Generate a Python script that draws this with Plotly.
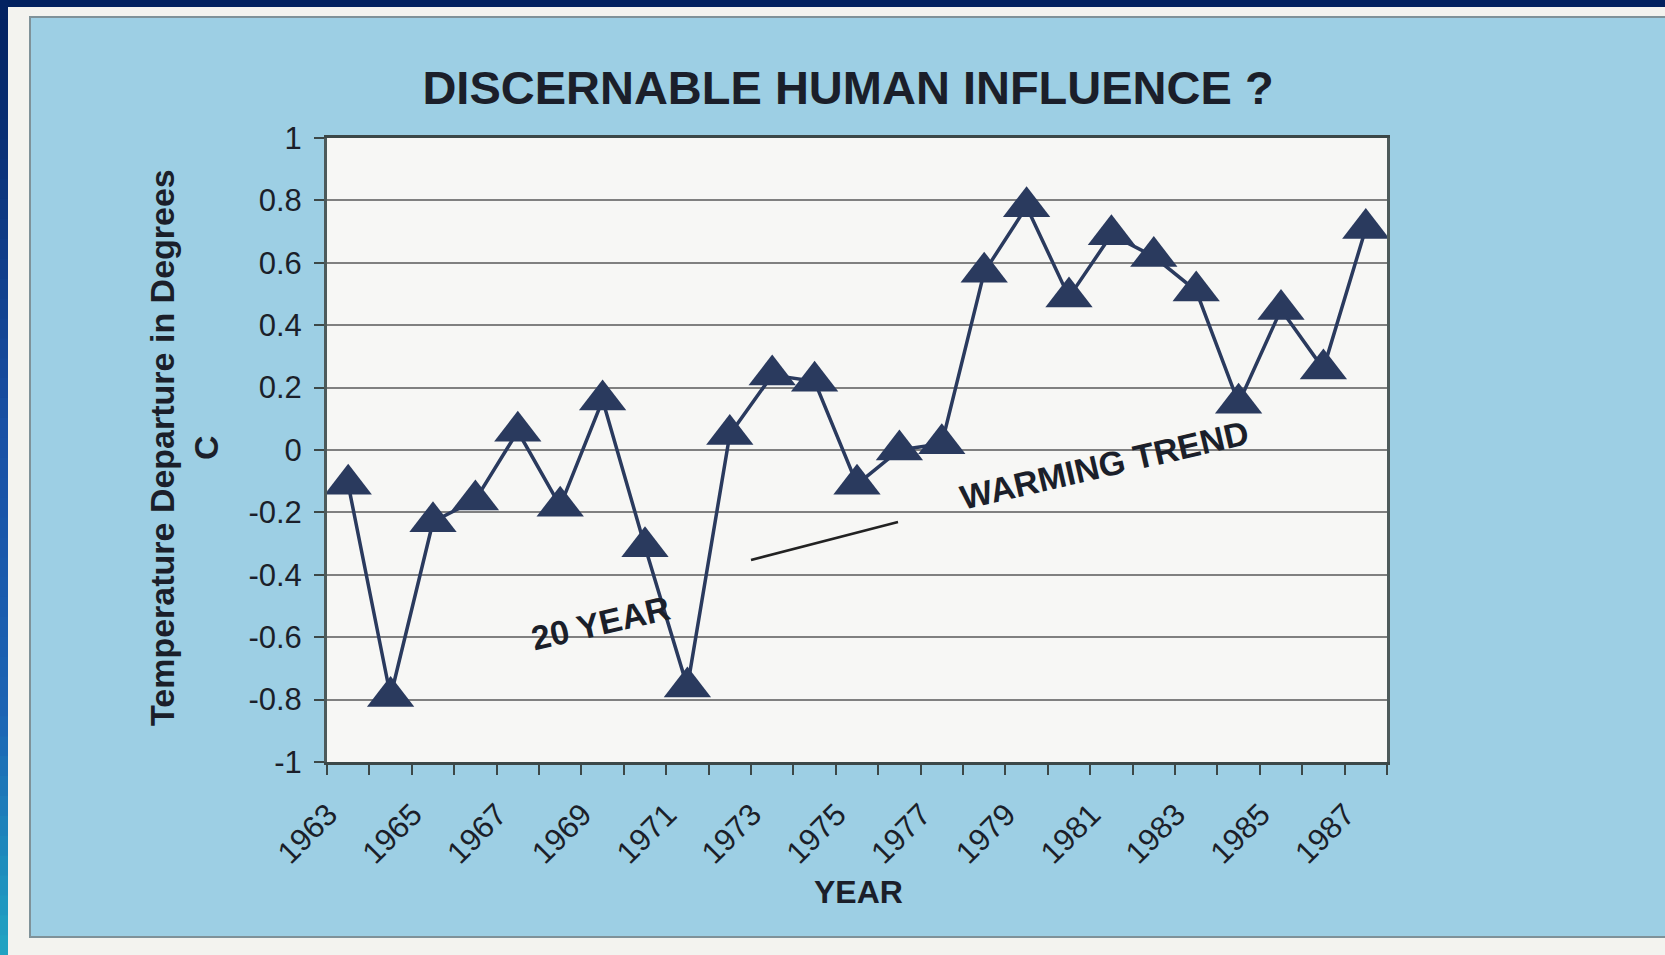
import plotly.graph_objects as go

# ---- data ----
years = [1963, 1964, 1965, 1966, 1967, 1968, 1969, 1970, 1971, 1972, 1973, 1974, 1975,
         1976, 1977, 1978, 1979, 1980, 1981, 1982, 1983, 1984, 1985, 1986, 1987]
temps = [-0.11, -0.79, -0.23, -0.16, 0.06, -0.18, 0.16, -0.31, -0.76, 0.05, 0.24, 0.22, -0.11,
         0.00, 0.02, 0.57, 0.78, 0.49, 0.69, 0.62, 0.51, 0.15, 0.45, 0.26, 0.71]
x_tick_years = [1963, 1965, 1967, 1969, 1971, 1973, 1975, 1977, 1979, 1981, 1983, 1985, 1987]
x_tick_text = ["1963", "1965", "1967", "1969", "1971", "1973", "1975", "1977", "1979",
               "1981", "1983", "1985", "1987"]
y_tick_vals = [-1, -0.8, -0.6, -0.4, -0.2, 0, 0.2, 0.4, 0.6, 0.8, 1]
y_tick_text = ["-1", "-0.8", "-0.6", "-0.4", "-0.2", "0", "0.2", "0.4", "0.6", "0.8", "1"]

title_text = "DISCERNABLE HUMAN INFLUENCE ?"
y_title = "Temperature Departure in Degrees<br>C"
x_title = "YEAR"
note_left = "20 YEAR"
note_right = "WARMING TREND"

# ---- layout geometry (pixels) ----
W, H = 1665, 955
PL, PR, PT, PB = 327, 1387, 138, 762


def px(X):
    return (X - PL) / (PR - PL)


def py(Y):
    return (PB - Y) / (PB - PT)


NAVY = "#2a3a5e"
TEXT = "#1b1f2a"
FONT = "Liberation Sans, Arial, sans-serif"

fig = go.Figure()
fig.add_trace(go.Scatter(
    x=years, y=temps, mode="lines+markers",
    line=dict(color=NAVY, width=3.5),
    marker=dict(symbol="triangle-up", size=41, color=NAVY, line=dict(width=0)),
    showlegend=False, hoverinfo="x+y",
))

shapes = []
offwhite = "#f3f3ef"
shapes.append(dict(type="rect", xref="paper", yref="paper", x0=px(-5), x1=px(W + 5), y0=py(-5), y1=py(17),
                   fillcolor=offwhite, line=dict(width=0), layer="below"))
shapes.append(dict(type="rect", xref="paper", yref="paper", x0=px(-5), x1=px(30), y0=py(-5), y1=py(H + 5),
                   fillcolor=offwhite, line=dict(width=0), layer="below"))
shapes.append(dict(type="rect", xref="paper", yref="paper", x0=px(-5), x1=px(W + 5), y0=py(937), y1=py(H + 5),
                   fillcolor=offwhite, line=dict(width=0), layer="below"))
# grey border of light-blue panel
shapes.append(dict(type="rect", xref="paper", yref="paper", x0=px(30), x1=px(W + 10), y0=py(17), y1=py(937),
                   fillcolor="rgba(0,0,0,0)", line=dict(color="#7f9299", width=2), layer="below"))
# navy top band
shapes.append(dict(type="rect", xref="paper", yref="paper", x0=px(-5), x1=px(W + 5), y0=py(-5), y1=py(7),
                   fillcolor="#02215f", line=dict(width=0), layer="below"))


def lerp(c1, c2, t):
    return tuple(int(round(a + (b - a) * t)) for a, b in zip(c1, c2))


# left gradient band
stops = [(0.0, (2, 33, 95)), (0.45, (24, 80, 165)), (0.75, (28, 100, 180)), (1.0, (32, 165, 195))]
n = 48
for i in range(n):
    t = (i + 0.5) / n
    c = stops[-1][1]
    for j in range(len(stops) - 1):
        if stops[j][0] <= t <= stops[j + 1][0]:
            tt = (t - stops[j][0]) / (stops[j + 1][0] - stops[j][0])
            c = lerp(stops[j][1], stops[j + 1][1], tt)
            break
    y0 = H * i / n
    y1 = H * (i + 1) / n + 1
    shapes.append(dict(type="rect", xref="paper", yref="paper", x0=px(-5), x1=px(8),
                       y0=py(y0), y1=py(y1), fillcolor="rgb(%d,%d,%d)" % c,
                       line=dict(width=0), layer="below"))

# trend segment
shapes.append(dict(type="line", xref="paper", yref="paper", x0=px(751), y0=py(560), x1=px(898), y1=py(522),
                   line=dict(color="#222222", width=2.5)))

annotations = [
    dict(text=note_left, xref="paper", yref="paper", x=px(600), y=py(623), showarrow=False,
         xanchor="center", yanchor="middle",
         textangle=-13, font=dict(family=FONT, size=34, color=TEXT, weight="bold")),
    dict(text=note_right, xref="paper", yref="paper", x=px(1104), y=py(465), showarrow=False,
         xanchor="center", yanchor="middle",
         textangle=-13, font=dict(family=FONT, size=34, color=TEXT, weight="bold")),
    dict(text=y_title, xref="paper", yref="paper", x=px(184), y=py(448), showarrow=False,
         xanchor="center", yanchor="middle",
         textangle=-90, font=dict(family=FONT, size=34, color=TEXT, weight="bold")),
    dict(text=x_title, xref="paper", yref="paper", x=px(858), y=py(892), showarrow=False,
         xanchor="center", yanchor="middle",
         font=dict(family=FONT, size=32, color=TEXT, weight="bold")),
]

fig.update_layout(
    width=W, height=H, autosize=False,
    margin=dict(l=PL, r=W - PR, t=PT, b=H - PB, pad=0),
    paper_bgcolor="#9dcfe4",
    plot_bgcolor="#f7f7f5",
    title=dict(text=title_text, x=px(848), xref="paper", xanchor="center",
               y=1 - 88 / H, yref="container", yanchor="middle",
               font=dict(family=FONT, size=47, color=TEXT, weight="bold")),
    shapes=shapes,
    annotations=annotations,
    showlegend=False,
)

fig.update_xaxes(
    range=[1962.5, 1987.5], tickmode="array", tickvals=x_tick_years, ticktext=x_tick_text,
    tickangle=-45, ticks="", showgrid=False, zeroline=False,
    tickfont=dict(family=FONT, size=31, color=TEXT),
    showline=True, linecolor="#3c4848", linewidth=3, mirror=True,
    minor=dict(ticks="outside", tick0=1962.5, dtick=1, ticklen=10, tickwidth=2, tickcolor="#3c4848",
               showgrid=False),
    ticklabelstandoff=19, ticklabelshift=-20,
)
fig.update_yaxes(
    range=[-1, 1], tickmode="array", tickvals=y_tick_vals, ticktext=y_tick_text,
    ticks="outside", ticklen=10, tickwidth=2, tickcolor="#3c4848",
    showgrid=True, gridcolor="#808080", gridwidth=2, zeroline=False,
    tickfont=dict(family=FONT, size=31, color=TEXT),
    showline=True, linecolor="#4d5a5a", linewidth=3, mirror=True,
    ticklabelstandoff=6,
)

fig.write_html("out.html", config={"displayModeBar": False},
               post_script="document.body.style.margin='0px';document.body.style.overflow='hidden';")
